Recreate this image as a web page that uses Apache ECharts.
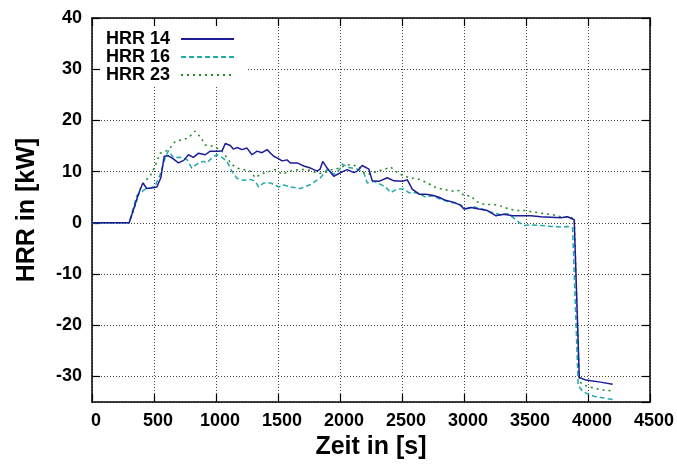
<!DOCTYPE html>
<html><head><meta charset="utf-8">
<script src="https://cdn.jsdelivr.net/npm/echarts@6/dist/echarts.min.js"></script>
<style>html,body{margin:0;padding:0;background:#fff}#c{width:677px;height:465px}</style>
</head><body><div id="c"></div>
<script>
const seriesNames = ['HRR 14', 'HRR 16', 'HRR 23'];
const xAxisName = 'Zeit in [s]';
const yAxisName = 'HRR in [kW]';

const time14 = [0,300,340,374,410,442,480,523,555,582,617,650,697,740,778,818,859,913,954,1021,1050,1075,1115,1140,1169,1210,1250,1290,1331,1371,1412,1440,1466,1500,1533,1573,1600,1654,1708,1762,1815,1840,1861,1896,1950,1998,2030,2058,2112,2139,2179,2233,2260,2314,2381,2435,2502,2543,2583,2637,2691,2745,2798,2852,2920,2974,3000,3055,3121,3189,3256,3323,3391,3458,3539,3620,3700,3781,3835,3889,3930,3984,4100,4199];
const hrr14 = [0,0,3.0,5.6,7.8,6.7,6.8,7.0,8.8,13.0,13.1,12.6,11.7,12.2,13.3,12.8,13.6,13.3,14.0,14.0,14.1,15.5,15.1,14.4,14.7,14.3,14.6,13.3,14.0,13.7,14.3,13.6,13.0,12.6,12.1,12.3,11.7,11.7,11.1,10.7,10.1,10.5,12.0,10.7,9.1,9.7,10.1,10.4,9.8,10.1,11.2,10.5,8.2,8.1,8.8,8.2,8.1,8.4,6.6,5.6,5.6,5.4,5.0,4.4,4.0,3.4,2.7,3.0,2.7,2.4,1.4,1.7,1.4,1.4,1.4,1.2,1.1,1.0,1.2,0.6,-30.2,-30.7,-31.1,-31.5];

const time16 = [0,300,361,428,470,509,549,590,617,657,711,765,805,859,900,927,967,1007,1048,1088,1128,1169,1223,1277,1317,1344,1385,1439,1506,1546,1600,1681,1762,1842,1896,1950,1998,2017,2071,2139,2192,2220,2274,2327,2368,2408,2462,2516,2556,2624,2691,2745,2812,2893,2960,3014,3081,3148,3216,3296,3350,3391,3445,3485,3539,3620,3700,3781,3835,3876,3889,3921,3957,3997,4051,4105,4199];
const hrr16 = [0,0,5.3,6.6,6.8,7.2,9.4,12.7,14.1,12.7,12.8,12.4,10.7,11.7,12.0,11.7,12.7,13.3,12.8,12.0,10.1,8.7,8.3,8.5,8.1,7.0,7.8,7.8,7.0,7.4,7.0,6.7,7.5,8.8,10.4,9.5,10.4,11.5,10.8,10.5,9.8,7.8,8.1,7.5,7.0,5.9,6.6,6.6,5.9,5.9,5.0,5.3,4.6,4.0,3.7,2.7,3.1,2.7,2.1,1.6,1.8,1.1,0.1,-0.5,-0.4,-0.5,-0.7,-0.8,-0.7,-1.0,-1.2,-31.7,-32.9,-33.4,-33.9,-34.1,-34.5];

const time23 = [0,300,350,388,428,469,509,549,590,630,671,725,778,832,873,913,967,1007,1048,1088,1128,1169,1223,1277,1317,1358,1412,1479,1533,1600,1668,1735,1815,1869,1936,1998,2031,2085,2152,2192,2247,2300,2354,2408,2462,2516,2570,2637,2704,2771,2839,2906,2960,3000,3055,3095,3162,3242,3310,3364,3418,3485,3566,3647,3714,3781,3849,3889,3930,3970,4051,4105,4186];
const hrr23 = [0,0,3.5,6.6,8.2,9.1,11.1,13.6,13.9,14.6,15.9,16.2,16.6,17.9,16.8,15.2,15.0,14.6,14.0,12.7,11.4,10.7,10.4,10.1,8.8,9.5,9.9,10.4,9.5,10.1,10.4,10.4,9.7,9.7,10.4,10.7,11.1,11.4,11.0,9.8,9.5,10.1,10.4,10.9,9.8,9.1,8.8,8.5,7.8,6.9,6.5,6.2,6.3,5.3,5.3,4.2,3.6,3.6,3.2,2.7,2.4,2.4,2.1,1.8,1.6,1.2,1.1,0.9,-31.0,-31.7,-32.3,-32.6,-32.8];

const xMin = 0, xMax = 4500, xStep = 500;
const yMin = -35, yMax = 40;

const zip = (t, v) => t.map((x, i) => [x, v[i]]);
const FONT = "'Liberation Sans', Arial, Helvetica, sans-serif";
const plain = v => String(v);

const gridLine = { show: true, lineStyle: { color: '#444', width: 1, type: [1, 2] } };
const axLine = { show: true, onZero: false, lineStyle: { color: '#000', width: 1.5 } };
const tick = { show: true, inside: true, length: 8, lineStyle: { color: '#000', width: 1.2 } };

const chart = echarts.init(document.getElementById('c'), null, { renderer: 'canvas' });
chart.setOption({
  animation: false,
  backgroundColor: '#fff',
  textStyle: { fontFamily: FONT },
  grid: { left: 92, right: 27, top: 18, bottom: 59, containLabel: false },
  legend: {
    orient: 'vertical', left: 100, top: 27, align: 'right',
    padding: [3, 11, 1, 6], itemGap: 0, itemWidth: 53, itemHeight: 14,
    backgroundColor: '#fff',
    itemStyle: { opacity: 0 },
    textStyle: { fontFamily: FONT, fontSize: 18, fontWeight: 'bold', color: '#000', lineHeight: 18, padding: [0, 6, 0, 0] },
    data: seriesNames
  },
  xAxis: [
    { type: 'value', min: xMin, max: xMax, interval: xStep, position: 'bottom',
      name: xAxisName, nameLocation: 'middle', nameGap: 31,
      nameTextStyle: { fontFamily: FONT, fontSize: 25, fontWeight: 'bold', color: '#000' },
      axisLine: axLine, axisTick: tick, splitLine: gridLine,
      axisLabel: { formatter: plain, fontFamily: FONT, fontSize: 18, fontWeight: 'bold', color: '#000', margin: 10, padding: [0, 0, 0, 8] } },
    { type: 'value', min: xMin, max: xMax, interval: xStep, position: 'top',
      axisLine: axLine, axisTick: tick, splitLine: { show: false }, axisLabel: { show: false } }
  ],
  yAxis: [
    { type: 'value', min: yMin, max: yMax, splitNumber: 7, position: 'left',
      name: yAxisName, nameLocation: 'middle', nameGap: 52, nameRotate: 90,
      nameTextStyle: { fontFamily: FONT, fontSize: 25, fontWeight: 'bold', color: '#000' },
      axisLine: axLine, axisTick: tick, splitLine: gridLine,
      axisLabel: { formatter: plain, fontFamily: FONT, fontSize: 18, fontWeight: 'bold', color: '#000', margin: 10, showMinLabel: false } },
    { type: 'value', min: yMin, max: yMax, splitNumber: 7, position: 'right',
      axisLine: axLine, axisTick: tick, splitLine: { show: false }, axisLabel: { show: false } }
  ],
  series: [
    { name: seriesNames[0], type: 'line', data: zip(time14, hrr14), symbol: 'none', showSymbol: false,
      lineStyle: { color: '#1c1c99', width: 1.5, type: 'solid' }, itemStyle: { color: '#1c1c99' }, z: 5 },
    { name: seriesNames[1], type: 'line', data: zip(time16, hrr16), symbol: 'none', showSymbol: false,
      lineStyle: { color: '#22aaaa', width: 1.5, type: [5, 3] }, itemStyle: { color: '#22aaaa' }, z: 3 },
    { name: seriesNames[2], type: 'line', data: zip(time23, hrr23), symbol: 'none', showSymbol: false,
      lineStyle: { color: '#228822', width: 1.5, type: [2, 4] }, itemStyle: { color: '#228822' }, z: 4 }
  ]
});
</script>
</body></html>
